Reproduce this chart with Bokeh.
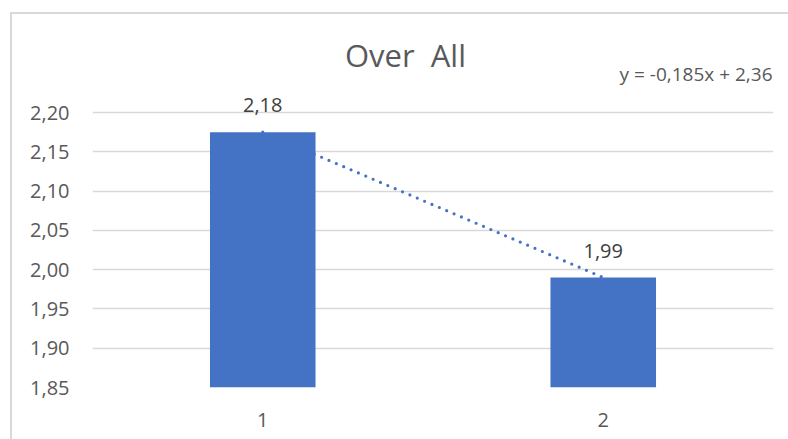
from bokeh.plotting import figure
from bokeh.models import (Range1d, FixedTicker, CustomJSTickFormatter, Label,
                          ColumnDataSource, InlineStyleSheet)
from bokeh.embed import file_html
from bokeh.resources import INLINE

# ---- data ----
categories = [1, 2]
values = [2.175, 1.99]
value_labels = ["2,18", "1,99"]
x_tick_labels = ["1", "2"]
y_ticks = [1.85, 1.90, 1.95, 2.00, 2.05, 2.10, 2.15, 2.20]
y_tick_labels = ["1,85", "1,90", "1,95", "2,00", "2,05", "2,10", "2,15", "2,20"]
trend_slope = -0.185
trend_intercept = 2.36
title_text = "Over  All"
equation_text = "y = -0,185x + 2,36"

FONT = "Open Sans"
BLUE = "#4472C4"
GRID = "#d9d9d9"
TXT = "#595959"
LBL = "#404040"

p = figure(width=788, height=439, output_backend="svg", toolbar_location=None,
           x_range=Range1d(0.5, 2.5), y_range=Range1d(1.85, 2.326),
           min_border_left=92, min_border_right=15, min_border_top=13,
           min_border_bottom=52)
p.outline_line_color = None
p.background_fill_color = "white"
p.border_fill_color = "white"

# chart border (left/top edges, runs off the right and bottom of the window)
p.stylesheets = [InlineStyleSheet(css=(
    ":host { position: relative; }"
    ":host::after { content: ''; position: absolute; left: 10px; top: 12px;"
    " width: 778px; height: 427px; box-sizing: border-box;"
    " border-left: 2px solid #d9d9d9; border-top: 2px solid #d9d9d9;"
    " pointer-events: none; }"))]

# bars
src = ColumnDataSource(dict(x=categories, top=values, lab=value_labels))
p.vbar(x="x", top="top", bottom=y_ticks[0], width=0.31, source=src,
       fill_color=BLUE, line_color=None)

# trendline
trend_x = [categories[0], categories[-1]]
trend_y = [trend_slope * v + trend_intercept for v in trend_x]
p.line(trend_x, trend_y, line_color=BLUE, line_width=3.2,
       line_dash="0 8", line_cap="round")

# data labels
p.text(x="x", y="top", text="lab", source=src, text_align="center",
       text_baseline="alphabetic", y_offset=-27, text_font_size="20px",
       text_color=LBL, text_font={"value": FONT})

# axes
p.xaxis.ticker = FixedTicker(ticks=categories)
p.xaxis.formatter = CustomJSTickFormatter(args=dict(labels=x_tick_labels),
                                          code="return labels[index];")
p.yaxis.ticker = FixedTicker(ticks=y_ticks)
p.yaxis.formatter = CustomJSTickFormatter(args=dict(labels=y_tick_labels),
                                          code="return labels[index];")
for ax in (p.xaxis, p.yaxis):
    ax.axis_line_color = None
    ax.major_tick_line_color = None
    ax.minor_tick_line_color = None
    ax.major_label_text_font = FONT
    ax.major_label_text_font_size = "20px"
    ax.major_label_text_color = TXT
p.xaxis.major_label_standoff = 19
p.yaxis.major_label_standoff = 17

p.xgrid.grid_line_color = None
p.ygrid.grid_line_color = GRID
p.ygrid.grid_line_width = 1.3

# title and trend equation
p.add_layout(Label(x=313, y=333, x_units="screen", y_units="screen",
                   text=title_text.replace("  ", "\u00a0 "), text_align="center",
                   text_baseline="alphabetic", text_font=FONT,
                   text_font_size="31px", text_color=TXT))
p.add_layout(Label(x=680, y=314, x_units="screen", y_units="screen",
                   text=equation_text, text_align="right",
                   text_baseline="alphabetic", text_font=FONT,
                   text_font_size="19px", text_color=TXT))

open("out.html", "w").write(file_html(p, INLINE))
